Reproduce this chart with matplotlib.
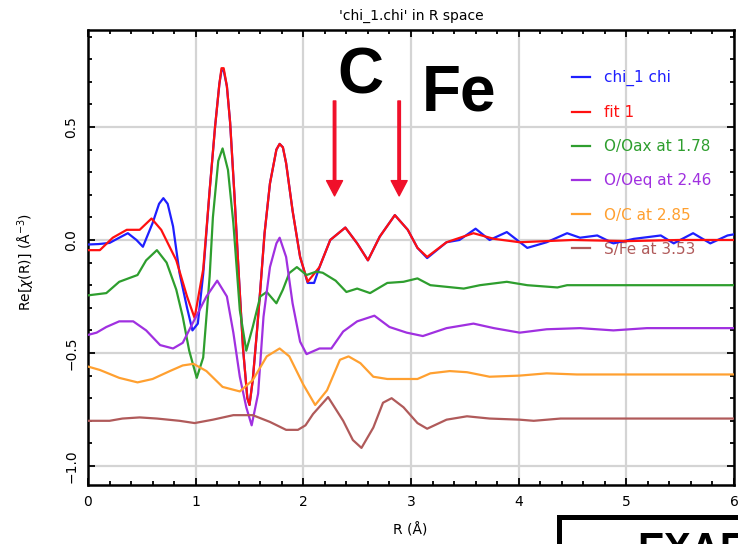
import matplotlib
matplotlib.use("Agg")
import matplotlib.pyplot as plt
from matplotlib.patches import Rectangle
from matplotlib.ticker import MultipleLocator

# measured chi(R) and fit
chi_r = [0.0, 0.1, 0.2, 0.29, 0.37, 0.45, 0.51, 0.6, 0.66, 0.70, 0.74, 0.79, 0.85, 0.92, 0.97,
         1.02, 1.07, 1.13, 1.18, 1.22, 1.24, 1.26, 1.29, 1.32, 1.36, 1.40, 1.44, 1.48, 1.50, 1.53,
         1.57, 1.60, 1.64, 1.69, 1.75, 1.78, 1.81, 1.84, 1.90, 1.97, 2.04, 2.10, 2.15, 2.25, 2.39,
         2.50, 2.60, 2.71, 2.85, 2.97, 3.06, 3.15, 3.33, 3.45, 3.60, 3.73, 3.89, 4.08, 4.26, 4.45,
         4.57, 4.73, 4.88, 5.07, 5.32, 5.44, 5.62, 5.78, 5.94, 6.0]
chi_val = [-0.02, -0.018, -0.013, 0.01, 0.03, 0.0, -0.03, 0.075, 0.16, 0.185, 0.16, 0.06, -0.146,
           -0.30, -0.40, -0.37, -0.15, 0.22, 0.50, 0.69, 0.75, 0.75, 0.68, 0.52, 0.20, -0.15,
           -0.48, -0.70, -0.73, -0.62, -0.40, -0.22, 0.03, 0.25, 0.40, 0.425, 0.41, 0.34, 0.13,
           -0.075, -0.19, -0.19, -0.12, 0.0, 0.055, -0.015, -0.09, 0.015, 0.11, 0.045, -0.035,
           -0.08, -0.01, 0.0, 0.05, 0.0, 0.035, -0.035, -0.01, 0.03, 0.01, 0.02, -0.015, 0.005,
           0.02, -0.015, 0.03, -0.015, 0.02, 0.025]

fit_r = [0.0, 0.11, 0.23, 0.36, 0.48, 0.59, 0.68, 0.82, 0.92, 0.99, 1.07, 1.13, 1.18, 1.22, 1.24,
         1.26, 1.29, 1.32, 1.36, 1.40, 1.44, 1.48, 1.50, 1.53, 1.57, 1.60, 1.64, 1.69, 1.75, 1.78,
         1.81, 1.84, 1.90, 1.97, 2.04, 2.15, 2.25, 2.39, 2.50, 2.60, 2.71, 2.85, 2.97, 3.06, 3.15,
         3.33, 3.58, 3.77, 4.01, 4.5, 5.0, 5.5, 6.0]
fit_val = [-0.045, -0.045, 0.01, 0.045, 0.045, 0.095, 0.045, -0.09, -0.25, -0.345, -0.13, 0.22,
           0.50, 0.69, 0.76, 0.76, 0.68, 0.52, 0.20, -0.15, -0.48, -0.70, -0.73, -0.62, -0.40,
           -0.22, 0.03, 0.25, 0.40, 0.425, 0.41, 0.34, 0.13, -0.075, -0.185, -0.12, 0.0, 0.055,
           -0.015, -0.09, 0.015, 0.11, 0.045, -0.035, -0.075, -0.01, 0.03, 0.005, -0.01, 0.0,
           -0.005, 0.0, 0.0]

# single-path contributions (offset)
oax_r = [0, 0.17, 0.29, 0.46, 0.54, 0.64, 0.73, 0.82, 0.88, 0.94, 1.01, 1.07, 1.13, 1.16, 1.21,
         1.25, 1.30, 1.35, 1.41, 1.47, 1.53, 1.60, 1.66, 1.75, 1.81, 1.87, 1.94, 2.03, 2.12, 2.18,
         2.30, 2.40, 2.50, 2.62, 2.78, 2.93, 3.06, 3.18, 3.49, 3.64, 3.89, 4.08, 4.36, 4.45, 5.0, 6.0]
oax_val = [-0.245, -0.235, -0.185, -0.155, -0.09, -0.045, -0.10, -0.22, -0.34, -0.49, -0.61, -0.52,
           -0.16, 0.10, 0.35, 0.405, 0.31, 0.075, -0.31, -0.49, -0.385, -0.25, -0.23, -0.28, -0.22,
           -0.146, -0.12, -0.155, -0.14, -0.145, -0.18, -0.23, -0.215, -0.235, -0.19, -0.185, -0.17,
           -0.20, -0.215, -0.20, -0.185, -0.20, -0.21, -0.20, -0.20, -0.20]

oeq_r = [0, 0.08, 0.17, 0.29, 0.42, 0.54, 0.67, 0.79, 0.88, 0.97, 1.10, 1.20, 1.29, 1.35, 1.41,
         1.47, 1.52, 1.58, 1.63, 1.69, 1.75, 1.78, 1.84, 1.90, 1.97, 2.03, 2.15, 2.26, 2.37, 2.50,
         2.66, 2.80, 2.96, 3.11, 3.33, 3.58, 3.77, 4.01, 4.26, 4.57, 4.88, 5.19, 6.0]
oeq_val = [-0.42, -0.41, -0.385, -0.36, -0.36, -0.40, -0.465, -0.48, -0.455, -0.37, -0.25, -0.18,
           -0.25, -0.41, -0.605, -0.74, -0.82, -0.68, -0.34, -0.12, -0.015, 0.01, -0.075, -0.28,
           -0.45, -0.505, -0.48, -0.48, -0.405, -0.36, -0.335, -0.385, -0.41, -0.425, -0.39, -0.37,
           -0.39, -0.41, -0.395, -0.39, -0.40, -0.39, -0.39]

oc_r = [0, 0.11, 0.29, 0.46, 0.60, 0.76, 0.88, 0.98, 1.10, 1.25, 1.41, 1.53, 1.66, 1.78, 1.87,
        2.00, 2.11, 2.22, 2.34, 2.42, 2.53, 2.65, 2.78, 3.06, 3.18, 3.36, 3.52, 3.73, 4.01, 4.26,
        4.54, 6.0]
oc_val = [-0.56, -0.575, -0.61, -0.63, -0.615, -0.58, -0.555, -0.548, -0.58, -0.65, -0.67, -0.62,
          -0.515, -0.48, -0.515, -0.64, -0.73, -0.665, -0.53, -0.515, -0.545, -0.605, -0.615,
          -0.615, -0.59, -0.58, -0.585, -0.605, -0.60, -0.59, -0.595, -0.595]

sfe_r = [0, 0.2, 0.32, 0.48, 0.64, 0.85, 0.99, 1.16, 1.35, 1.53, 1.69, 1.84, 1.95, 2.02, 2.09,
         2.23, 2.37, 2.46, 2.54, 2.65, 2.74, 2.82, 2.93, 3.06, 3.15, 3.33, 3.52, 3.73, 4.01, 4.14,
         4.39, 6.0]
sfe_val = [-0.80, -0.80, -0.79, -0.785, -0.79, -0.80, -0.81, -0.795, -0.775, -0.775, -0.805, -0.84,
           -0.84, -0.82, -0.77, -0.695, -0.80, -0.885, -0.92, -0.83, -0.72, -0.70, -0.74, -0.81,
           -0.835, -0.795, -0.78, -0.79, -0.795, -0.80, -0.79, -0.79]

labels = ["chi_1 chi", "fit 1", "O/Oax at 1.78", "O/Oeq at 2.46", "O/C at 2.85", "S/Fe at 3.53"]
colors = ["#1f1fff", "#ff1010", "#2e9e2e", "#a030e0", "#ffa030", "#b05a5a"]
arrow_r = [2.29, 2.89]

fig = plt.figure(figsize=(7.38, 5.44), dpi=100)
ax = fig.add_axes([88 / 738, 59 / 544, 646 / 738, 455 / 544])

series = [(chi_r, chi_val), (fit_r, fit_val), (oax_r, oax_val),
          (oeq_r, oeq_val), (oc_r, oc_val), (sfe_r, sfe_val)]
for (r, v), lab, c in zip(series, labels, colors):
    ax.plot(r, v, color=c, lw=1.6, label=lab, zorder=3, solid_joinstyle="round")

ax.set_xlim(0, 6.0)
ax.set_ylim(-1.084, 0.929)
ax.xaxis.set_major_locator(MultipleLocator(1))
ax.xaxis.set_minor_locator(MultipleLocator(0.2))
ax.yaxis.set_major_locator(MultipleLocator(0.5))
ax.yaxis.set_minor_locator(MultipleLocator(0.1))
ax.grid(True, which="major", color="#d4d4d4", lw=1.6, zorder=0)
ax.tick_params(which="both", direction="in", top=True, right=True, width=1.3, labelsize=10)
ax.tick_params(which="major", length=5)
ax.tick_params(which="minor", length=3)
ax.tick_params(axis="x", pad=7)
ax.tick_params(axis="y", pad=7, labelrotation=90)
for lbl in ax.get_yticklabels():
    lbl.set_va("center")
for s in ax.spines.values():
    s.set_linewidth(1.8)

ax.set_title("'chi_1.chi' in R space", fontsize=10, pad=7)
ax.set_xlabel("R (Å)", fontsize=10)
ax.set_ylabel(r"Re[$\chi$(R)] (Å$^{-3}$)", fontsize=10)
ax.xaxis.set_label_coords(0.499, -0.083)
ax.yaxis.set_label_coords(-0.079, 0.49)

leg = ax.legend(loc="upper left", bbox_to_anchor=(572 / 738, 1 - 70 / 544),
                bbox_transform=fig.transFigure, frameon=False, fontsize=11,
                labelcolor="linecolor", handlelength=1.2, handletextpad=0.9,
                labelspacing=1.25, borderpad=0, borderaxespad=0)
leg.set_zorder(2)

# arrows marking the C and Fe shells
for r in arrow_r:
    ax.annotate("", xy=(r, 0.195), xytext=(r, 0.615),
                arrowprops=dict(color="#f0102a", width=1.8, headwidth=11.5,
                                headlength=11, shrink=0))
ax.text(2.535, 0.646, "C", fontsize=46, fontweight="bold", family="Liberation Sans",
        ha="center", va="baseline")
ax.text(3.10, 0.575, "Fe", fontsize=46, fontweight="bold", family="Liberation Sans",
        ha="left", va="baseline")

# boxed caption running off the lower right corner
fig.patches.append(Rectangle((559 / 738, -0.1), 0.5, 0.1 + 27 / 544, fill=False,
                             lw=3.6, edgecolor="black", transform=fig.transFigure))
fig.text(637 / 738, -17 / 544, "EXAFS", fontsize=29, fontweight="bold",
         family="Liberation Sans", ha="left", va="baseline")

fig.savefig("out.png", dpi=100)
